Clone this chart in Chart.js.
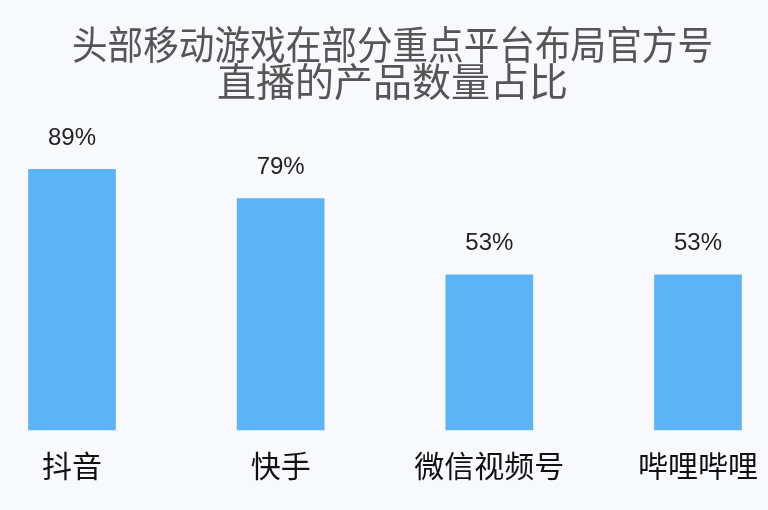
<!DOCTYPE html>
<html>
<head>
<meta charset="utf-8">
<script src="https://cdn.jsdelivr.net/npm/chart.js@4"></script>
<style>
  html, body { margin: 0; padding: 0; background: #f7f9fc; }
  #wrap { width: 768px; height: 510px; }
</style>
</head>
<body>
<div id="wrap"><canvas id="chart-live"></canvas></div>
<script>
// data
const platforms = ['抖音', '快手', '微信视频号', '哔哩哔哩'];
const shares = [89, 79, 53, 53];
const titleLines = ['头部移动游戏在部分重点平台布局官方号', '直播的产品数量占比'];

// writes the % above each bar
const valueLabels = {
  id: 'valueLabels',
  afterDatasetsDraw(chart) {
    const ctx = chart.ctx;
    const meta = chart.getDatasetMeta(0);
    ctx.save();
    ctx.font = '24px "Liberation Sans", Arial, sans-serif';
    ctx.fillStyle = '#222';
    ctx.textAlign = 'center';
    ctx.textBaseline = 'middle';
    meta.data.forEach(function(bar, i) {
      ctx.fillText(shares[i] + '%', bar.x, bar.y - 31);
    });
    ctx.restore();
  }
};

const ctx = document.getElementById('chart-live').getContext('2d');

const myChart = new Chart(ctx, {
  type: 'bar',
  data: {
    labels: platforms,
    datasets: [{
      label: '占比',
      data: shares,
      backgroundColor: '#5cb3f6',
      borderWidth: 0,
      barThickness: 87,
      clip: false
    }]
  },
  options: {
    responsive: true,
    maintainAspectRatio: false,
    animation: false,
    layout: {
      padding: { left: 72, right: 55, top: 0, bottom: 16 }
    },
    plugins: {
      legend: { display: false },
      tooltip: { enabled: false },
      title: {
        display: true,
        text: titleLines,
        color: '#555',
        font: { family: '"Noto Sans CJK SC", sans-serif', size: 39, weight: 'normal', lineHeight: 0.95 },
        padding: { top: 26, bottom: 37 }
      }
    },
    scales: {
      x: {
        offset: false,
        grid: { display: false },
        border: { display: false },
        ticks: {
          color: '#111',
          padding: 10,
          font: { family: '"Noto Sans CJK SC", sans-serif', size: 30 }
        }
      },
      y: {
        display: false,
        min: 0,
        max: 100
      }
    }
  },
  plugins: [valueLabels]
});
</script>
</body>
</html>
